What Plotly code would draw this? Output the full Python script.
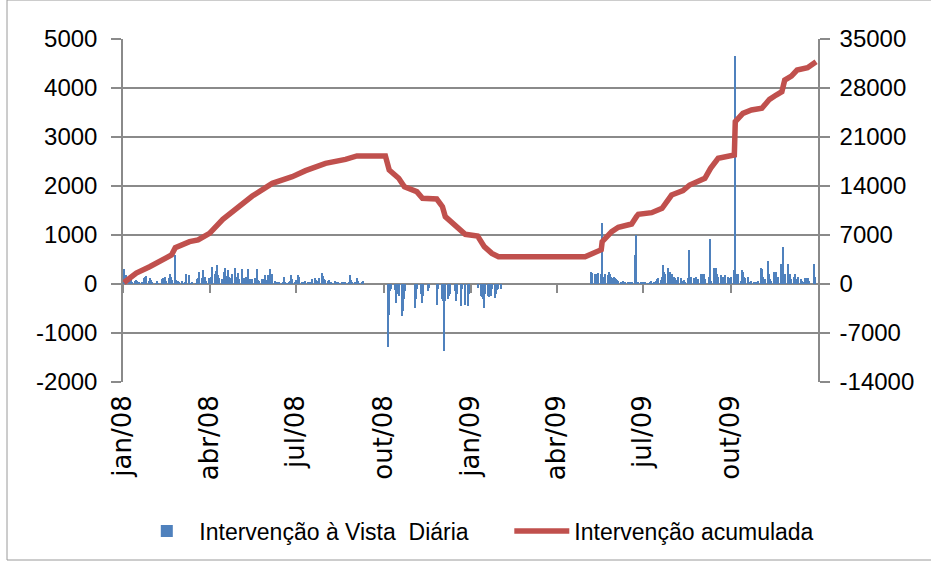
import pandas as pd
import plotly.graph_objects as go

# intervenção diária (US$ milhões), um valor por dia útil de cada mês
jan08 = [250, 300, 120, 180, 80, 60, 100, 90, 40, 70, 90, 60, 30, 50, 40, 20, 120, 150, 170, 60, 130, 40, 90]
feb08 = [30, 0, 20, 60, 10, 0, 110, 130, 90, 150, 60, 120, 200, 170, 140, 90, 600, 80, 0, 70, 40]
mar08 = [60, 20, 0, 40, 200, 180, 30, 0, 20, 40, 0, 10, 110, 130, 250, 120, 290, 90, 150, 60, 120]
apr08 = [80, 130, 150, 340, 200, 260, 390, 180, 120, 100, 60, 240, 330, 170, 290, 150, 80, 120, 210, 330, 140, 90]
may08 = [230, 100, 300, 80, 120, 130, 140, 300, 100, 110, 90, 100, 120, 60, 300, 90, 60, 110, 80, 100, 190, 80]
jun08 = [180, 120, 300, 110, 200, 60, 30, 20, 40, 30, 20, 50, 150, 30, 20, 10, 40, 60, 190, 100, 30]
jul08 = [90, 60, 190, 140, 40, 50, 30, 60, 20, 40, 30, 10, 40, 100, 120, 80, 20, 60, 120, 220, 160, 110, 80]
aug08 = [80, 60, 90, 40, 30, 20, 60, 20, 30, 30, 20, 40, 30, 20, 30, 40, 20, 30, 190, 80, 40]
sep08 = [30, 20, 120, 60, 20, 50, 55, 40, 0, 0, 0, 0, 0, 0, 0, 0, 0, 0, 0, 0, 0, 0]
oct08 = [0, 0, 0, -1290, -630, -150, -100, 0, -120, -390, -200, -100, -250, -660, -400, -560, -300, -150, 0, 0, 0, 0, 0]
nov08 = [-490, -300, -100, 0, 0, -210, -390, -250, 0, 0, -150, -80, 0, 0, 0, 0, 0, -420, -100, 0]
dec08 = [0, -300, -350, -1370, -350, -300, -250, -200, 0, 0, -150, -350, -200, 0, 0, -450, -100, 0, 0, -420, -440, -200, 0]
jan09 = [0, 0, 0, 0, 0, -80, 0, -250, -260, -300, -490, -200, -250, -270, -180, -250, -100, -280, -200, -120, -110, -90]
feb09 = [-100, 0, 0, 0, 0, 0, 0, 0, 0, 0, 0, 0, 0, 0, 0, 0, 0, 0, 0, 0]
mar09 = [0, 0, 0, 0, 0, 0, 0, 0, 0, 0, 0, 0, 0, 0, 0, 0, 0, 0, 0, 0, 0, 0]
apr09 = [0, 0, 0, 0, 0, 0, 0, 0, 0, 0, 0, 0, 0, 0, 0, 0, 0, 0, 0, 0, 0, 0]
may09 = [0, 0, 0, 0, 250, 230, 200, 180, 200, 150, 220, 200, 1240, 150, 120, 200, 180, 250, 200, 150, 120]
jun09 = [150, 120, 100, 80, 60, 50, 40, 60, 30, 40, 50, 30, 20, 40, 30, 0, 590, 1000, 40, 30, 40, 20]
jul09 = [30, 20, 40, 20, 0, 30, 60, 20, 40, 30, 60, 100, 120, 80, 150, 380, 250, 200, 320, 180, 250, 150, 200]
aug09 = [150, 120, 80, 40, 150, 120, 60, 40, 80, 30, 120, 700, 100, 150, 80, 120, 100, 150, 60, 100, 200]
sep09 = [200, 150, 200, 100, 0, 150, 920, 100, 60, 330, 280, 320, 200, 150, 180, 120, 150, 100, 180, 150, 120, 60]
oct09 = [100, 150, 290, 4650, 200, 180, 200, 60, 290, 250, 150, 120, 150, 50, 40, 50, 60, 40, 30, 50, 40, 60]
nov09 = [320, 300, 150, 60, 100, 200, 460, 200, 100, 60, 250, 200, 250, 100, 150, 400, 350, 760, 150, 200, 400]
dec09 = [200, 150, 200, 100, 150, 200, 100, 80, 150, 100, 60, 0, 40, 130, 130, 120, 60, 0, 0, 400, 150, 0, 0]

months = ["2008-01", "2008-02", "2008-03", "2008-04", "2008-05", "2008-06",
          "2008-07", "2008-08", "2008-09", "2008-10", "2008-11", "2008-12",
          "2009-01", "2009-02", "2009-03", "2009-04", "2009-05", "2009-06",
          "2009-07", "2009-08", "2009-09", "2009-10", "2009-11", "2009-12"]
monthly = [jan08, feb08, mar08, apr08, may08, jun08, jul08, aug08, sep08, oct08, nov08, dec08,
           jan09, feb09, mar09, apr09, may09, jun09, jul09, aug09, sep09, oct09, nov09, dec09]

line_dates = ["2008-01-02", "2008-01-15", "2008-01-29", "2008-02-15", "2008-02-21", "2008-02-25",
              "2008-03-11", "2008-03-20", "2008-04-01", "2008-04-15", "2008-04-30", "2008-05-16",
              "2008-06-06", "2008-06-27", "2008-07-11", "2008-08-01", "2008-08-22", "2008-09-03",
              "2008-10-03", "2008-10-07", "2008-10-17", "2008-10-23", "2008-11-05", "2008-11-11",
              "2008-11-26", "2008-12-02", "2008-12-05", "2008-12-17", "2008-12-26", "2009-01-08",
              "2009-01-15", "2009-01-23", "2009-01-30", "2009-05-01", "2009-05-13", "2009-05-18",
              "2009-05-19", "2009-05-29", "2009-06-05", "2009-06-19", "2009-06-24", "2009-06-26",
              "2009-07-10", "2009-07-21", "2009-07-31", "2009-08-12", "2009-08-19", "2009-09-04",
              "2009-09-10", "2009-09-16", "2009-09-18", "2009-10-05", "2009-10-06", "2009-10-14",
              "2009-10-23", "2009-11-03", "2009-11-06", "2009-11-11", "2009-11-18", "2009-11-24",
              "2009-11-27", "2009-12-04", "2009-12-10", "2009-12-21", "2009-12-30"]
line_values = [200, 1570, 2470, 3570, 4140, 5190,
               6050, 6290, 7240, 9240, 10810, 12570,
               14380, 15330, 16190, 17240, 17810, 18290,
               18290, 16290, 15100, 13900, 13190, 12240,
               12140, 11050, 9620, 8190, 7100, 6860,
               5330, 4380, 3900, 3900, 4620, 4900,
               6050, 7470, 8100, 8570, 9620, 9950,
               10190, 10810, 12710, 13330, 14140, 15100,
               16530, 17480, 17950, 18430, 23190, 24380,
               24860, 25100, 25570, 26380, 27000, 27470,
               29140, 29710, 30570, 30900, 31760]

tick_dates = ["2008-01-01", "2008-04-01", "2008-07-01", "2008-10-01",
              "2009-01-01", "2009-04-01", "2009-07-01", "2009-10-01"]
tick_labels = ["jan/08", "abr/08", "jul/08", "out/08", "jan/09", "abr/09", "jul/09", "out/09"]
left_ticks = [-2000, -1000, 0, 1000, 2000, 3000, 4000, 5000]
right_ticks = [-14000, -7000, 0, 7000, 14000, 21000, 28000, 35000]

bar_dates, bar_values = [], []
for m, vals in zip(months, monthly):
    start = pd.Timestamp(m + "-01")
    days = pd.bdate_range(start, start + pd.offsets.MonthEnd(0))
    for d, v in zip(days, vals):
        bar_dates.append(d)
        bar_values.append(v)

GRID = "#8a8a8a"
FONT = "Liberation Sans"

fig = go.Figure()
fig.add_trace(go.Bar(x=bar_dates, y=bar_values, name="Intervenção à Vista  Diária",
                     marker=dict(color="#4F81BD", line=dict(width=0)),
                     width=86400000 * 1.2))
fig.add_trace(go.Scatter(x=pd.to_datetime(line_dates), y=line_values, mode="lines",
                         name="Intervenção acumulada", xaxis="x2", yaxis="y2",
                         line=dict(color="#C0504D", width=5.5)))

fig.update_layout(
    width=931, height=564,
    margin=dict(l=123, r=113, t=39, b=182),
    paper_bgcolor="white", plot_bgcolor="white",
    font=dict(family=FONT, size=23, color="black"),
    bargap=0,
    showlegend=True,
    legend=dict(orientation="h", x=-0.001, xanchor="left", y=-149 / 343, yanchor="middle",
                bgcolor="rgba(0,0,0,0)", indentation=12,
                font=dict(size=23), itemwidth=55, traceorder="normal",
                entrywidth=293, entrywidthmode="pixels"),
    xaxis=dict(type="date", range=["2008-01-01", "2010-01-01"], automargin=False,
               tickvals=tick_dates, ticktext=tick_labels, tickangle=-90,
               ticks="", showgrid=False, showline=False, zeroline=False,
               ticklabelstandoff=7, tickfont=dict(family="DejaVu Sans", size=26)),
    xaxis2=dict(type="date", matches="x", overlaying="x", anchor="free", automargin=False,
                position=2000 / 7000, tickvals=tick_dates, showticklabels=False,
                ticks="outside", ticklen=8, tickwidth=1.5, tickcolor=GRID,
                showgrid=False, showline=False, zeroline=False),
    yaxis=dict(range=[-2000, 5000], tickvals=left_ticks,
               ticktext=[str(v) for v in left_ticks], tickfont=dict(size=24),
               automargin=False, ticklabelstandoff=9,
               showgrid=True, gridcolor=GRID, gridwidth=1.5,
               zeroline=True, zerolinecolor=GRID, zerolinewidth=1.5,
               showline=True, linecolor=GRID, linewidth=1.5,
               ticks="outside", ticklen=10, tickcolor=GRID, tickwidth=1.5),
    yaxis2=dict(range=[-14000, 35000], tickvals=right_ticks,
                ticktext=[str(v) for v in right_ticks], overlaying="y", side="right",
                anchor="x2", tickfont=dict(size=24), showgrid=False, zeroline=False,
                automargin=False, ticklabelstandoff=5,
                showline=True, linecolor=GRID, linewidth=1.5,
                ticks="outside", ticklen=10, tickcolor=GRID, tickwidth=1.5),
)

# moldura da área do gráfico
fig.add_shape(type="rect", xref="paper", yref="paper",
              x0=-116 / 695, x1=812 / 695, y0=-178 / 343, y1=382 / 343,
              line=dict(color="#9a9a9a", width=1), fillcolor="rgba(0,0,0,0)", layer="below")

fig.write_html("out.html", config={"displayModeBar": False},
               post_script="document.body.style.margin='0';")
